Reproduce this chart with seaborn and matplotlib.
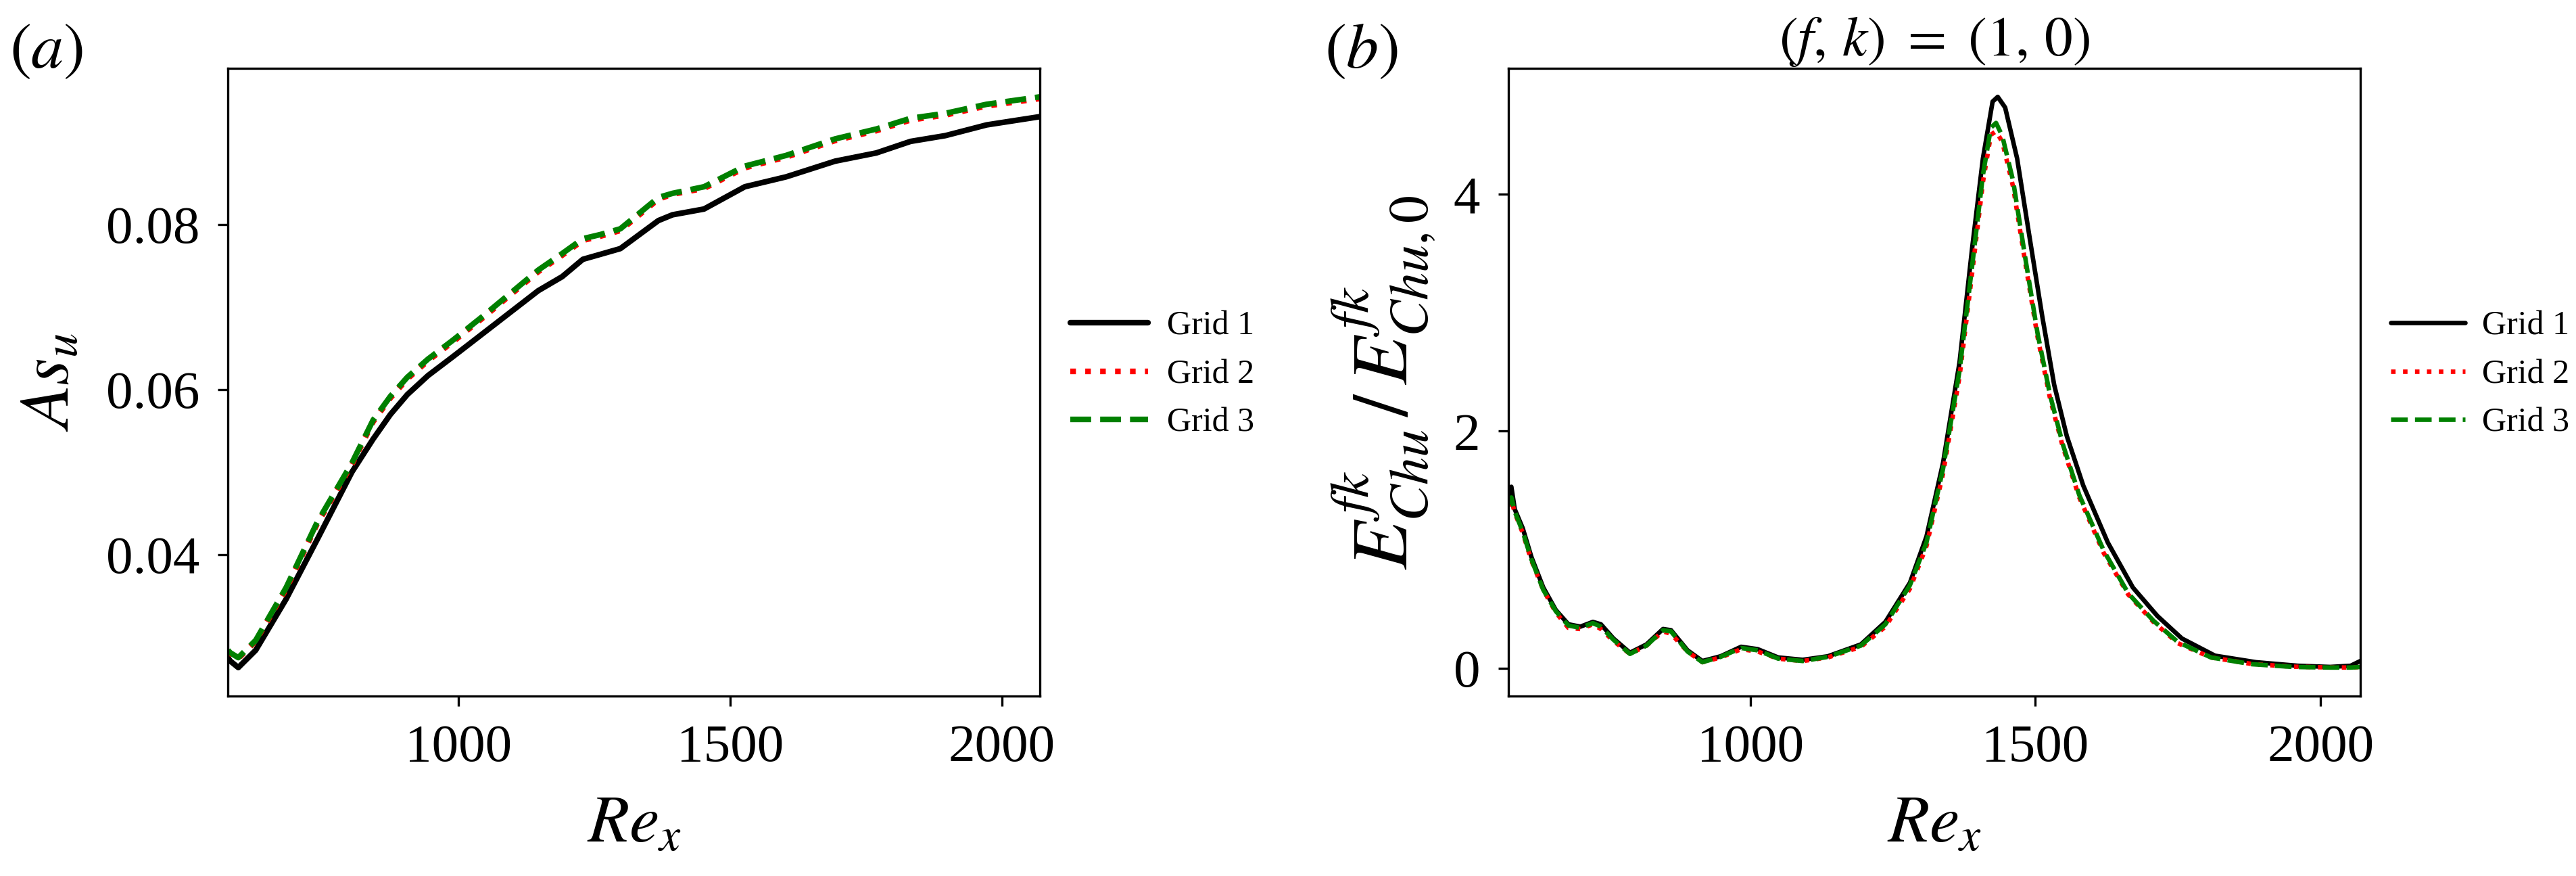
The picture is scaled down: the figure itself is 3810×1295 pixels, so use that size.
import matplotlib
matplotlib.use("Agg")
import matplotlib.pyplot as plt
import seaborn as sns

# Panel (a): As_u against Re_x
re_a = [576, 580, 595, 627, 683, 740, 804, 843, 875, 906, 944, 990, 1045, 1147, 1191,
        1229, 1261, 1298, 1368, 1394, 1452, 1527, 1603, 1693, 1769, 1832, 1896, 1972, 2070]
as_grid1 = [0.0275, 0.0271, 0.0263, 0.0284, 0.0346, 0.0418, 0.0500, 0.0540, 0.0570, 0.0594,
            0.0617, 0.0640, 0.0668, 0.0720, 0.0737, 0.0758, 0.0764, 0.0771, 0.0805, 0.0812,
            0.0819, 0.0846, 0.0858, 0.0877, 0.0887, 0.0901, 0.0908, 0.0921, 0.0931]
as_grid2 = [0.0283, 0.0280, 0.0274, 0.0295, 0.0358, 0.0437, 0.0509, 0.0561, 0.0590, 0.0613,
            0.0635, 0.0658, 0.0687, 0.0743, 0.0763, 0.0781, 0.0786, 0.0793, 0.0831, 0.0837,
            0.0844, 0.0869, 0.0882, 0.0902, 0.0914, 0.0927, 0.0933, 0.0944, 0.0953]
as_grid3 = [0.0284, 0.0281, 0.0275, 0.0296, 0.0360, 0.0439, 0.0511, 0.0563, 0.0592, 0.0615,
            0.0637, 0.0660, 0.0689, 0.0745, 0.0765, 0.0783, 0.0788, 0.0795, 0.0833, 0.0838,
            0.0846, 0.0871, 0.0884, 0.0904, 0.0916, 0.0929, 0.0935, 0.0946, 0.0955]

# Panel (b): normalised energy for (f, k) = (1, 0)
re_b1 = [576, 581, 587, 601, 616, 637, 659, 681, 702, 724, 738, 760, 789, 818, 847, 861,
         890, 916, 948, 984, 1013, 1049, 1092, 1136, 1194, 1237, 1280, 1309, 1338, 1367,
         1389, 1408, 1425, 1434, 1447, 1468, 1490, 1512, 1533, 1555, 1584, 1627, 1671,
         1714, 1757, 1815, 1887, 1960, 2017, 2053, 2070]
e_grid1 = [1.42, 1.53, 1.34, 1.18, 0.94, 0.68, 0.49, 0.37, 0.35, 0.39, 0.37, 0.25, 0.13,
           0.20, 0.33, 0.32, 0.15, 0.06, 0.10, 0.18, 0.16, 0.09, 0.07, 0.10, 0.20, 0.39,
           0.72, 1.11, 1.73, 2.58, 3.54, 4.30, 4.78, 4.82, 4.73, 4.30, 3.63, 2.97, 2.39,
           1.96, 1.54, 1.06, 0.68, 0.44, 0.25, 0.105, 0.05, 0.02, 0.01, 0.02, 0.06]
re_b23 = [576, 581, 587, 601, 616, 637, 659, 681, 702, 724, 738, 760, 789, 818, 847, 861,
          890, 916, 948, 984, 1013, 1049, 1092, 1136, 1194, 1237, 1280, 1309, 1338, 1367,
          1389, 1408, 1422, 1431, 1442, 1461, 1483, 1504, 1526, 1548, 1577, 1620, 1663,
          1707, 1750, 1808, 1880, 1952, 2017, 2053, 2070]
e_grid2 = [1.37, 1.42, 1.31, 1.14, 0.91, 0.66, 0.47, 0.34, 0.33, 0.37, 0.33, 0.23, 0.12,
           0.19, 0.31, 0.29, 0.14, 0.05, 0.09, 0.16, 0.14, 0.08, 0.06, 0.09, 0.18, 0.35,
           0.67, 1.03, 1.64, 2.46, 3.33, 4.10, 4.50, 4.53, 4.44, 4.06, 3.40, 2.79, 2.27,
           1.87, 1.44, 0.97, 0.62, 0.39, 0.21, 0.09, 0.035, 0.012, 0.006, 0.005, 0.01]
e_grid3 = [1.38, 1.44, 1.32, 1.15, 0.92, 0.66, 0.48, 0.36, 0.34, 0.38, 0.35, 0.24, 0.12,
           0.19, 0.32, 0.31, 0.14, 0.05, 0.095, 0.17, 0.15, 0.08, 0.06, 0.095, 0.19, 0.37,
           0.70, 1.06, 1.68, 2.51, 3.39, 4.16, 4.56, 4.60, 4.49, 4.11, 3.44, 2.82, 2.30,
           1.89, 1.46, 0.99, 0.63, 0.40, 0.22, 0.09, 0.033, 0.01, 0.005, 0.005, 0.01]

labels = ["Grid 1", "Grid 2", "Grid 3"]
colors = ["black", "red", "green"]
styles = ["-", ":", "--"]

sns.set_style("ticks", {"axes.edgecolor": "black", "xtick.color": "black",
                        "ytick.color": "black", "text.color": "black",
                        "axes.labelcolor": "black"})
plt.rcParams["font.family"] = ["Liberation Serif", "DejaVu Serif"]
plt.rcParams["mathtext.fontset"] = "stix"

fig = plt.figure(figsize=(12.7, 4.3167), dpi=300)
ax1 = fig.add_axes([0.0885, 0.2054, 0.3152, 0.7166])
ax2 = fig.add_axes([0.5856, 0.2054, 0.3307, 0.7166])

# (a)
for yv, lab, col, ls in zip([as_grid1, as_grid2, as_grid3], labels, colors, styles):
    sns.lineplot(x=re_a, y=yv, ax=ax1, color=col, linestyle=ls, lw=2, label=lab)
ax1.set_xlim(576, 2070)
ax1.set_xticks([1000, 1500, 2000])
ax1.set_yticks([0.04, 0.06, 0.08])
ax1.set_yticklabels(["0.04", "0.06", "0.08"])
ax1.set_xlabel(r"$Re_x$", fontsize=24, labelpad=8)
ax1.set_ylabel(r"$As_u$", fontsize=25, labelpad=8)
ax1.legend(loc="center left", bbox_to_anchor=(1.0, 0.512), frameon=False, fontsize=12,
           handlelength=2.3, handletextpad=0.55)

# (b)
for xv, yv, lab, col, ls in zip([re_b1, re_b23, re_b23], [e_grid1, e_grid2, e_grid3],
                                labels, colors, styles):
    sns.lineplot(x=xv, y=yv, ax=ax2, color=col, linestyle=ls, lw=1.6, label=lab)
ax2.set_xlim(576, 2070)
ax2.set_xticks([1000, 1500, 2000])
ax2.set_yticks([0, 2, 4])
ax2.set_xlabel(r"$Re_x$", fontsize=24, labelpad=8)
ax2.set_ylabel(r"$E^{fk}_{Chu}\,/\,E^{fk}_{Chu,0}$", fontsize=28, labelpad=6)
ax2.set_title(r"$(f,\, k)\ =\ (1,\, 0)$", fontsize=20, pad=4)
ax2.legend(loc="center left", bbox_to_anchor=(1.0, 0.512), frameon=False, fontsize=12,
           handlelength=2.2, handletextpad=0.5)

for ax in (ax1, ax2):
    for sp in ax.spines.values():
        sp.set_visible(True)
        sp.set_linewidth(0.8)
    ax.tick_params(labelsize=19, pad=6.5, length=3.5, width=0.8)

fig.text(0.018, 0.941, r"$(a)$", fontsize=23, ha="center", va="center")
fig.text(0.5286, 0.941, r"$(b)$", fontsize=23, ha="center", va="center")

fig.savefig("out.png", dpi=300)
plt.close(fig)
